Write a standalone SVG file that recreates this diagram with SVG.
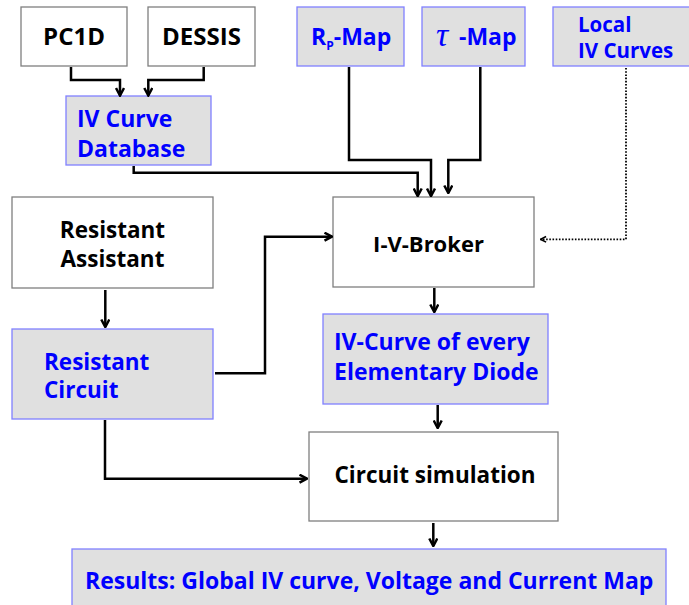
<svg xmlns="http://www.w3.org/2000/svg" width="689" height="605" viewBox="0 0 689 605">
<style>
.w{fill:#ffffff;stroke:#7f7f7f;stroke-width:1.3}
.g{fill:#e0e0e0;stroke:#8080ff;stroke-width:1.3}
text{font-family:"Open Sans","Noto Sans","DejaVu Sans",sans-serif;font-weight:bold;font-size:23px}
.k{fill:#000000}
.b{fill:#0000ff}
.c{text-anchor:middle}
.ln{fill:none;stroke:#000000;stroke-width:2.5;marker-end:url(#arr)}
.dt{fill:none;stroke:#000000;stroke-width:1.8;stroke-dasharray:1.6 1.6;marker-end:url(#arrs)}
</style>
<defs>
<marker id="arr" viewBox="0 0 10 10" refX="9" refY="5" markerWidth="10" markerHeight="10" markerUnits="userSpaceOnUse" orient="auto">
<path d="M1.5,1 L9,5 L1.5,9" fill="none" stroke="#000000" stroke-width="2.5"/>
</marker>
<marker id="arrs" viewBox="0 0 10 10" refX="9" refY="5" markerWidth="8" markerHeight="8" markerUnits="userSpaceOnUse" orient="auto">
<path d="M2,1.5 L9,5 L2,8.5" fill="none" stroke="#000000" stroke-width="2"/>
</marker>
</defs>
<g id="pc1d"><rect class="w" x="21" y="7" width="106" height="59"/><text class="k c" x="74" y="45" style="font-size:24px">PC1D</text></g>
<g id="dessis"><rect class="w" x="148" y="7" width="107" height="59"/><text class="k c" x="201.5" y="45" style="font-size:24px">DESSIS</text></g>
<g id="rpmap"><rect class="g" x="297" y="7" width="107" height="59"/><text class="b" x="311" y="45">R<tspan font-size="12" dy="5">P</tspan><tspan dy="-5">-Map</tspan></text></g>
<g id="taumap"><rect class="g" x="422" y="7" width="103" height="59"/><text class="b" x="436" y="46" style="font-family:'Liberation Serif',serif;font-style:italic;font-weight:normal;font-size:34px">τ</text><text class="b" x="459" y="45">-Map</text></g>
<g id="localiv"><rect class="g" x="553" y="7" width="140" height="59"/><text class="b" x="578" y="32" style="font-size:20.5px">Local</text><text class="b" x="578" y="58" style="font-size:20.5px">IV Curves</text></g>
<g id="ivdb"><rect class="g" x="66" y="96" width="145" height="69"/><text class="b" x="77" y="127">IV Curve</text><text class="b" x="77" y="157">Database</text></g>
<g id="resassist"><rect class="w" x="12" y="197" width="201" height="91"/><text class="k c" x="112.5" y="238" style="font-size:22.5px">Resistant</text><text class="k c" x="112.5" y="267" style="font-size:22.5px">Assistant</text></g>
<g id="broker"><rect class="w" x="333" y="197" width="201" height="90"/><text class="k c" x="428.5" y="252" style="font-size:22px">I-V-Broker</text></g>
<g id="rescircuit"><rect class="g" x="12" y="329" width="201" height="90"/><text class="b" x="44" y="370" style="font-size:22.5px">Resistant</text><text class="b" x="44" y="398" style="font-size:22.5px">Circuit</text></g>
<g id="ivcurve"><rect class="g" x="323" y="314" width="225" height="90"/><text class="b" x="334" y="350">IV-Curve of every</text><text class="b" x="334" y="380">Elementary Diode</text></g>
<g id="circsim"><rect class="w" x="309" y="432" width="249" height="89"/><text class="k c" x="435" y="483" style="font-size:22.5px">Circuit simulation</text></g>
<g id="results"><rect class="g" x="72" y="549" width="594" height="64"/><text class="b" x="85" y="589">Results: Global IV curve, Voltage and Current Map</text></g>
<g id="connectors">
<path class="ln" d="M71,67 V80 H120 V95.5"/>
<path class="ln" d="M203.7,67 V80 H148.3 V95.5"/>
<path class="ln" d="M133.7,166 V172.7 H417.7 V196"/>
<path class="ln" d="M349,67 V160 H431 V196"/>
<path class="ln" d="M480.3,67 V160 H448.3 V193"/>
<path class="dt" d="M626,68 V239.3 H540.5"/>
<path class="ln" d="M105.3,290 V327"/>
<path class="ln" d="M215,373.3 H265 V236.7 H332"/>
<path class="ln" d="M434.3,288 V312"/>
<path class="ln" d="M437.7,405 V428"/>
<path class="ln" d="M105,420 V478.7 H307"/>
<path class="ln" d="M433.3,523 V546"/>
</g>
</svg>
